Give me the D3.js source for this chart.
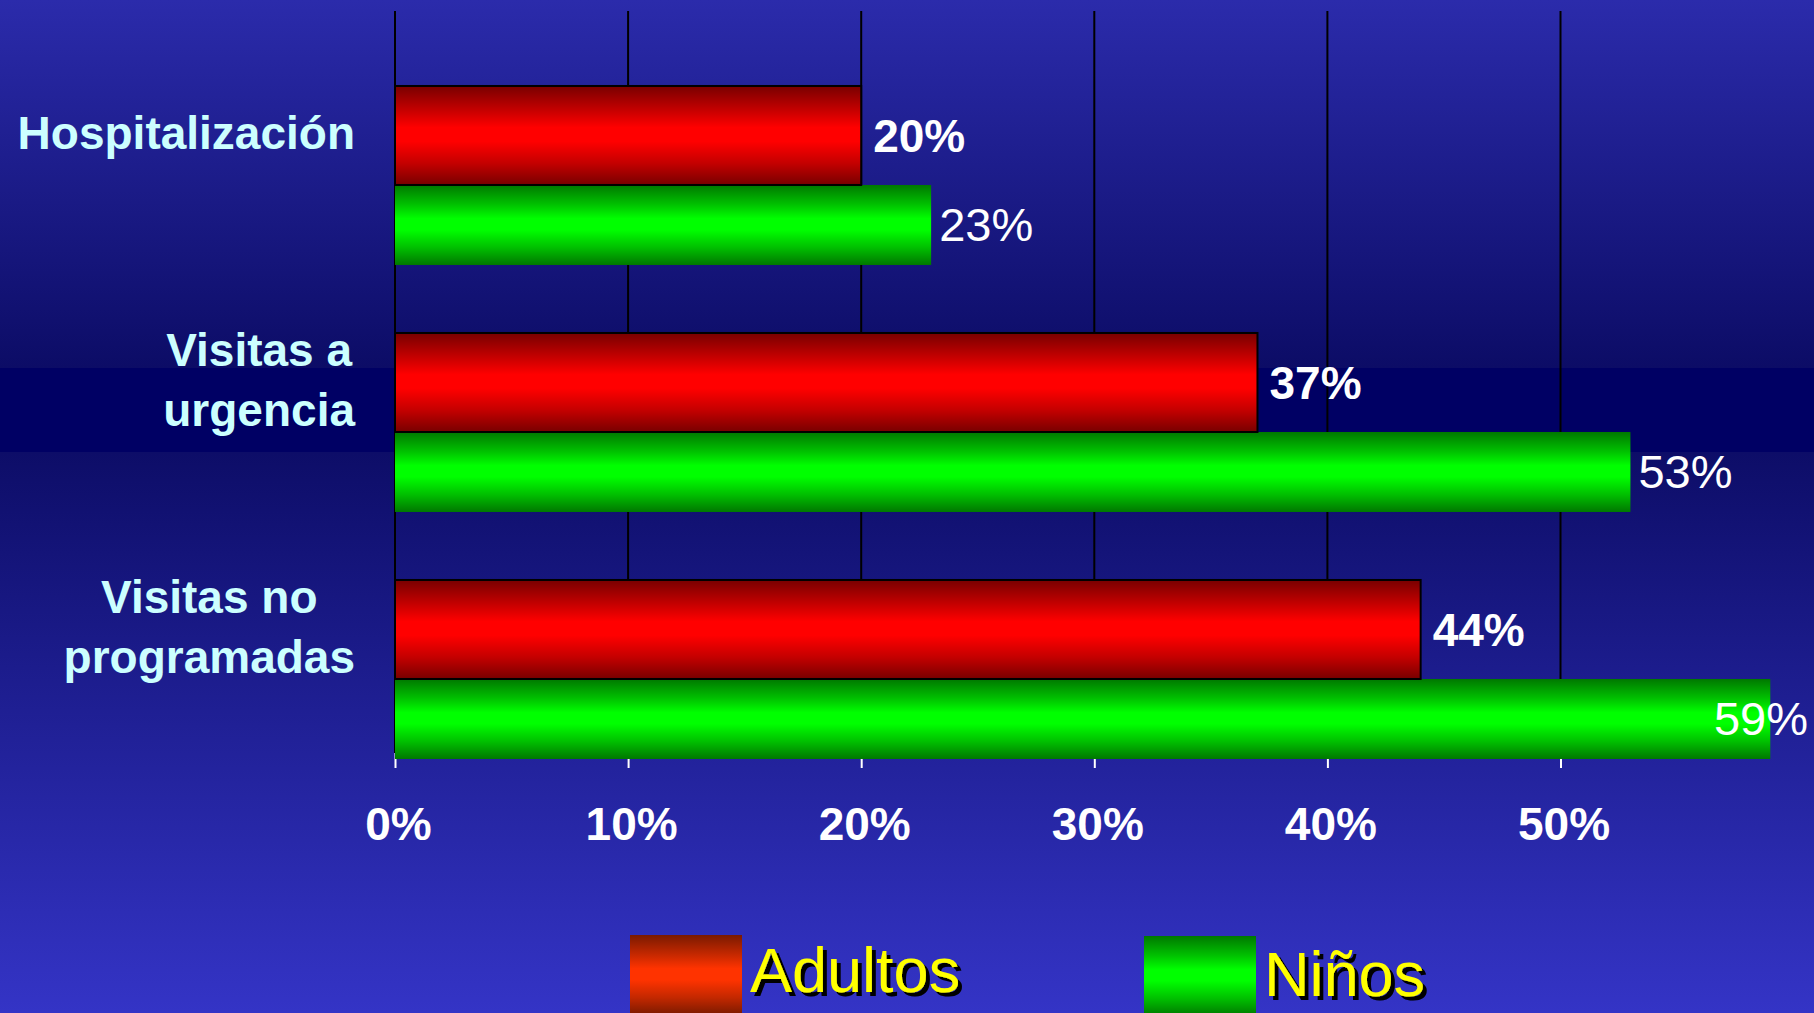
<!DOCTYPE html>
<html lang="es">
<head>
<meta charset="utf-8">
<title>Hospitalización y visitas: adultos y niños</title>
<script src="https://cdn.jsdelivr.net/npm/d3@7"></script>
<style>
  html, body { margin: 0; padding: 0; background: #1a1a80; }
  svg { display: block; font-family: "Liberation Sans", Arial, Helvetica, sans-serif; }
</style>
</head>
<body>
<svg id="chart" width="1814" height="1013"></svg>
<script>
// Categories (each split into its display lines) and series values, in percent
const categories = ["Hospitalización", "Visitas a urgencia", "Visitas no programadas"];
const categoryLines = [["Hospitalización"], ["Visitas a", "urgencia"], ["Visitas no", "programadas"]];
const seriesNames = ["Adultos", "Niños"];
const adultos = [20, 37, 44];
const ninos = [23, 53, 59];
const tickValues = [0, 10, 20, 30, 40, 50];
const tickLabels = ["0%", "10%", "20%", "30%", "40%", "50%"];

const W = 1814, H = 1013;
const svg = d3.select("#chart");
const defs = svg.append("defs");

// Background: blue vertical gradient with a dark band across the middle
const bg = defs.append("linearGradient").attr("id", "bg")
  .attr("gradientUnits", "userSpaceOnUse")
  .attr("x1", 0).attr("y1", 0).attr("x2", 0).attr("y2", H);
[[0, "#2b2bab"], [0.363, "#0c0c66"], [0.3635, "#000064"], [0.446, "#000064"],
 [0.4465, "#0d0d68"], [1, "#3434c6"]]
  .forEach(([o, c]) => bg.append("stop").attr("offset", o).attr("stop-color", c));
svg.append("rect").attr("width", W).attr("height", H).attr("fill", "url(#bg)");

// Cylinder-like shading for the bars and legend swatches
function shade(id, dark, mid, bright) {
  const g = defs.append("linearGradient").attr("id", id)
    .attr("x1", 0).attr("y1", 0).attr("x2", 0).attr("y2", 1);
  [[0, dark], [0.24, mid], [0.42, bright], [0.56, bright], [0.78, mid], [1, dark]]
    .forEach(([o, c]) => g.append("stop").attr("offset", o).attr("stop-color", c));
}
shade("redBar", "#780000", "#c40000", "#ff0000");
shade("greenBar", "#007800", "#00c000", "#00ff00");
shade("redKey", "#7a1a00", "#c42800", "#ff3300");
shade("greenKey", "#007800", "#00c000", "#00ff00");

// Hard black drop shadow for the legend text
defs.append("filter").attr("id", "keyShadow")
  .attr("x", "-5%").attr("y", "-10%").attr("width", "115%").attr("height", "130%")
  .append("feDropShadow")
  .attr("dx", 4).attr("dy", 4).attr("stdDeviation", 0)
  .attr("flood-color", "#000").attr("flood-opacity", 1);

// Scales
const plotTop = 11, plotBottom = 753;
const x = d3.scaleLinear().domain([0, 50]).range([395, 1560.5]);
const y = d3.scaleBand().domain(categories).range([13, 754]);
const step = y.step();
const redOff = step * 0.2955, redH = step * 0.4008, greenH = step * 0.3239;

// Vertical gridlines (black)
svg.append("g").selectAll("line").data(tickValues).join("line")
  .attr("x1", d => x(d)).attr("x2", d => x(d))
  .attr("y1", plotTop).attr("y2", plotBottom)
  .attr("stroke", "#000").attr("stroke-width", 2);

// Bottom axis: short white ticks and bold percentage labels
const axis = d3.axisBottom(x).tickValues(tickValues)
  .tickFormat((d, i) => tickLabels[i]).tickSize(15).tickPadding(39);
const axG = svg.append("g").attr("transform", `translate(0,${plotBottom})`).call(axis);
axG.select(".domain").remove();
axG.selectAll(".tick line").attr("stroke", "#fff").attr("stroke-width", 2);
axG.selectAll(".tick text")
  .attr("fill", "#fff").attr("font-size", 46).attr("font-weight", "bold")
  .attr("font-family", "'Liberation Sans', Arial, sans-serif")
  .attr("dx", 3);

// Bars
const rows = categories.map((c, i) => ({ cat: c, a: adultos[i], n: ninos[i], lines: categoryLines[i] }));

svg.append("g").selectAll("rect").data(rows).join("rect")
  .attr("x", x(0)).attr("y", d => y(d.cat) + redOff + redH)
  .attr("width", d => x(d.n) - x(0)).attr("height", greenH)
  .attr("fill", "url(#greenBar)");

svg.append("g").selectAll("rect").data(rows).join("rect")
  .attr("x", x(0)).attr("y", d => y(d.cat) + redOff)
  .attr("width", d => x(d.a) - x(0)).attr("height", redH)
  .attr("fill", "url(#redBar)").attr("stroke", "#000").attr("stroke-width", 2);

// Value labels at the bar ends (kept inside the canvas)
const valG = svg.append("g");
valG.selectAll("text.adult").data(rows).join("text").attr("class", "adult")
  .attr("x", d => x(d.a) + 12).attr("y", d => y(d.cat) + redOff + redH / 2).attr("dy", "0.35em")
  .attr("fill", "#fff").attr("font-size", 46).attr("font-weight", "bold")
  .text(d => d.a + "%");
valG.selectAll("text.child").data(rows).join("text").attr("class", "child")
  .attr("y", d => y(d.cat) + redOff + redH + greenH / 2).attr("dy", "0.35em")
  .attr("fill", "#fff").attr("font-size", 47)
  .text(d => d.n + "%")
  .attr("x", function (d) {
    const w = this.getComputedTextLength();
    return Math.min(x(d.n) + 8, W - w - 6);
  });

// Category labels: right-aligned block, lines centered within it
const labelRight = 355, lineGap = 60;
rows.forEach(d => {
  const g = svg.append("g");
  const cy = y(d.cat) + redOff + redH / 2 - 3;
  const t = g.selectAll("text").data(d.lines).join("text")
    .attr("y", (l, i) => cy - (d.lines.length - 1) * lineGap / 2 + i * lineGap)
    .attr("dy", "0.355em")
    .attr("fill", "#ccffff").attr("font-size", 46).attr("font-weight", "bold")
    .attr("text-anchor", "middle")
    .text(l => l);
  const maxW = d3.max(t.nodes(), n => n.getComputedTextLength());
  t.attr("x", labelRight - maxW / 2);
});

// Legend
const keyFills = ["url(#redKey)", "url(#greenKey)"];
const keyX = [630, 1144], keyTop = [935, 936], keyBase = [992, 996];
const leg = svg.append("g");
seriesNames.forEach((name, i) => {
  leg.append("rect").attr("x", keyX[i]).attr("y", keyTop[i])
    .attr("width", 112).attr("height", 80).attr("fill", keyFills[i]);
  leg.append("text").attr("x", keyX[i] + 120).attr("y", keyBase[i])
    .attr("font-size", 63).attr("fill", "#ffff00")
    .attr("filter", "url(#keyShadow)").text(name);
});
</script>
</body>
</html>
